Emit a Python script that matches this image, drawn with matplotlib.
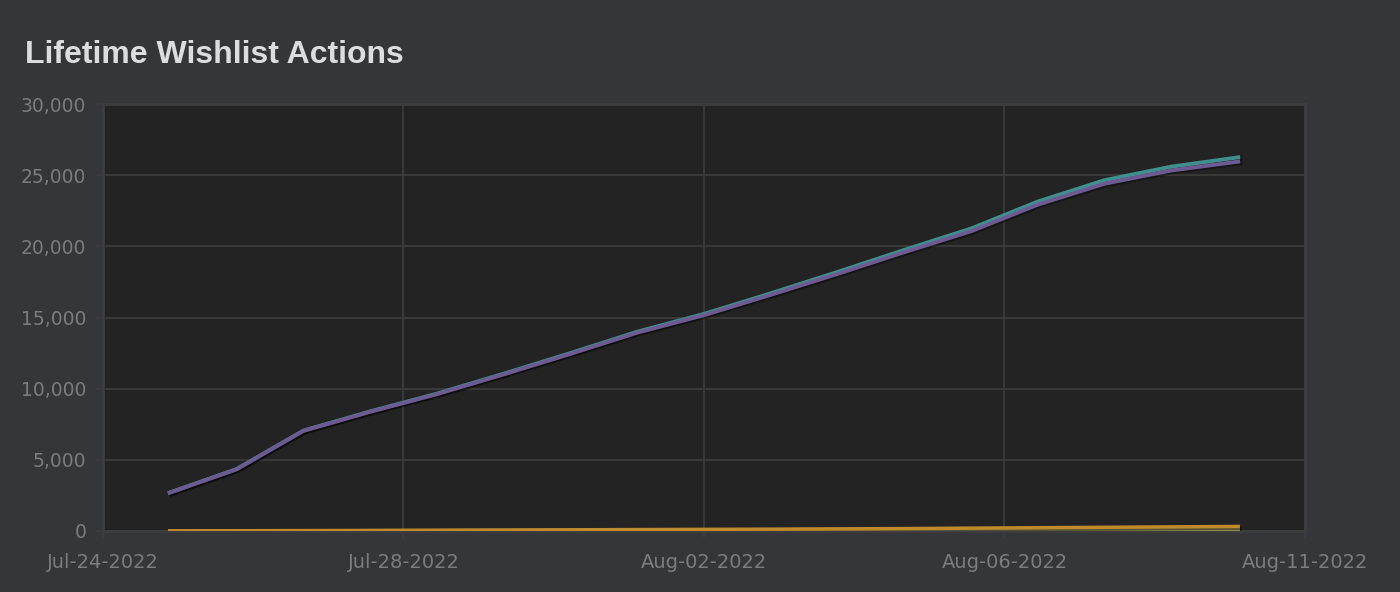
import matplotlib
matplotlib.use("Agg")
import matplotlib.pyplot as plt
import matplotlib.dates as mdates
import matplotlib.patheffects as pe
import pandas as pd
from matplotlib.ticker import FuncFormatter

dates = pd.date_range("2022-07-25", "2022-08-10", freq="D")
adds = [2700, 4350, 7050, 8400, 9650, 11050, 12500, 14000, 15250,
        16700, 18200, 19750, 21250, 23150, 24650, 25600, 26250]
net = [2690, 4330, 7030, 8370, 9610, 11000, 12440, 13930, 15160,
       16590, 18060, 19590, 21060, 22930, 24400, 25330, 25950]
deletes = [10, 20, 30, 40, 55, 70, 85, 100, 115, 130, 150, 170, 200, 230, 260, 290, 320]
purchases = [5, 10, 15, 20, 25, 30, 35, 40, 45, 50, 55, 60, 70, 80, 90, 100, 110]

tick_dates = pd.to_datetime(["2022-07-24 00:00", "2022-07-28 12:00", "2022-08-02 00:00",
                             "2022-08-06 12:00", "2022-08-11 00:00"])
y_ticks = [0, 5000, 10000, 15000, 20000, 25000, 30000]

BG = "#35363a"
PLOT_BG = "#232323"
GRID = "#3d3d3d"
TXT = "#7b7c7e"

fig = plt.figure(figsize=(14, 5.92), dpi=100, facecolor=BG)
ax = fig.add_axes([103/1400, 1 - 531/592, (1305 - 103)/1400, (531 - 104)/592])
ax.set_facecolor(PLOT_BG)

shadow = [pe.SimpleLineShadow(offset=(1.2, -1.2), shadow_color="black", alpha=0.4), pe.Normal()]
ax.plot(dates, purchases, color="#8c8a4e", lw=2.5, path_effects=shadow, zorder=3)
ax.plot(dates, deletes, color="#c08a2c", lw=2.5, path_effects=shadow, zorder=3)
ax.plot(dates, adds, color="#3f8f8e", lw=2.8, path_effects=shadow, zorder=4)
ax.plot(dates, net, color="#6e5a93", lw=2.8, path_effects=shadow, zorder=5)

ax.set_xlim(tick_dates[0], tick_dates[-1])
ax.set_ylim(0, 30000)
ax.set_xticks(tick_dates)
ax.xaxis.set_major_formatter(mdates.DateFormatter("%b-%d-%Y"))
ax.set_yticks(y_ticks)
ax.yaxis.set_major_formatter(FuncFormatter(lambda v, p: f"{int(v):,}"))

ax.grid(True, color=GRID, lw=1.2, zorder=0)
for s in ax.spines.values():
    s.set_color(GRID)
    s.set_linewidth(2)
ax.tick_params(colors=GRID, labelcolor=TXT, length=5, width=1.2)
ax.tick_params(axis="y", labelsize=13.5, pad=7)
ax.tick_params(axis="x", labelsize=14, pad=11)

fig.text(25/1400, 1 - 55/592, "Lifetime Wishlist Actions", color="#dcdddf",
         fontsize=23, fontweight="bold", family="Liberation Sans", va="center", ha="left")

fig.savefig("out.png", dpi=100, facecolor=BG)
